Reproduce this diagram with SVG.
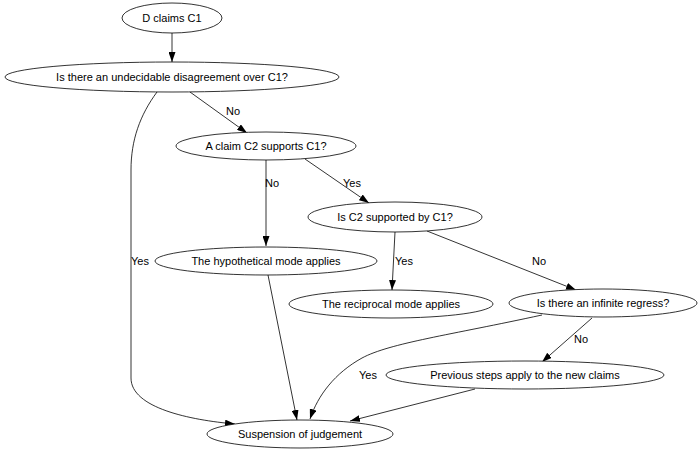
<svg xmlns="http://www.w3.org/2000/svg" width="698" height="449" viewBox="0 0 698 449">
<style>
  .node ellipse { fill: #ffffff; stroke: #000000; stroke-width: 0.8; }
  .node text, .lbl { font-family: "Liberation Sans", Arial, sans-serif; font-size: 11px; fill: #000000; text-anchor: middle; dominant-baseline: central; }
  .edge { fill: none; stroke: #000000; stroke-width: 0.8; marker-end: url(#arrow); }
</style>
<defs>
  <marker id="arrow" viewBox="0 0 10 7" refX="10" refY="3.5" markerWidth="10" markerHeight="7" markerUnits="userSpaceOnUse" orient="auto">
    <path d="M0,0 L10,3.5 L0,7 Z" fill="#000000"/>
  </marker>
</defs>
<rect width="698" height="449" fill="#ffffff"/>
<g id="connectors">
  <path class="edge" d="M172,33 L172,62"/>
  <path class="edge" d="M190,92 L247,133"/>
  <path class="edge" d="M157,92 C140,115 131,140 131,170 L131,378 C131,408 190,420 235,424"/>
  <path class="edge" d="M266,160 L266,246"/>
  <path class="edge" d="M305,159 L369,203"/>
  <path class="edge" d="M395,232 L392,290"/>
  <path class="edge" d="M427,231 L576,290"/>
  <path class="edge" d="M268,275 L297,420"/>
  <path class="edge" d="M542,315 C450,335 390,343 362,358 C335,373 318,395 310,419"/>
  <path class="edge" d="M592,318 L542,362"/>
  <path class="edge" d="M475,389 L350,421"/>
  <text class="lbl" x="233" y="111">No</text>
  <text class="lbl" x="272" y="183">No</text>
  <text class="lbl" x="352" y="183">Yes</text>
  <text class="lbl" x="140" y="261">Yes</text>
  <text class="lbl" x="404" y="261">Yes</text>
  <text class="lbl" x="539" y="261">No</text>
  <text class="lbl" x="581" y="339">No</text>
  <text class="lbl" x="368" y="375">Yes</text>
</g>
<g id="n1" class="node"><ellipse cx="172" cy="18" rx="50" ry="15"/><text x="172" y="18">D claims C1</text></g>
<g id="n2" class="node"><ellipse cx="172" cy="77" rx="167" ry="15"/><text x="172" y="77">Is there an undecidable disagreement over C1?</text></g>
<g id="n3" class="node"><ellipse cx="266" cy="146" rx="90" ry="14"/><text x="266" y="146">A claim C2 supports C1?</text></g>
<g id="n4" class="node"><ellipse cx="395" cy="217" rx="87" ry="15"/><text x="395" y="217">Is C2 supported by C1?</text></g>
<g id="n5" class="node"><ellipse cx="266" cy="261" rx="111" ry="14"/><text x="266" y="261">The hypothetical mode applies</text></g>
<g id="n6" class="node"><ellipse cx="391" cy="304" rx="102" ry="14"/><text x="391" y="304">The reciprocal mode applies</text></g>
<g id="n7" class="node"><ellipse cx="603" cy="303" rx="94" ry="14"/><text x="603" y="303">Is there an infinite regress?</text></g>
<g id="n8" class="node"><ellipse cx="525" cy="375" rx="139" ry="14"/><text x="525" y="375">Previous steps apply to the new claims</text></g>
<g id="n9" class="node"><ellipse cx="300" cy="434" rx="93" ry="14"/><text x="300" y="434">Suspension of judgement</text></g>
</svg>
